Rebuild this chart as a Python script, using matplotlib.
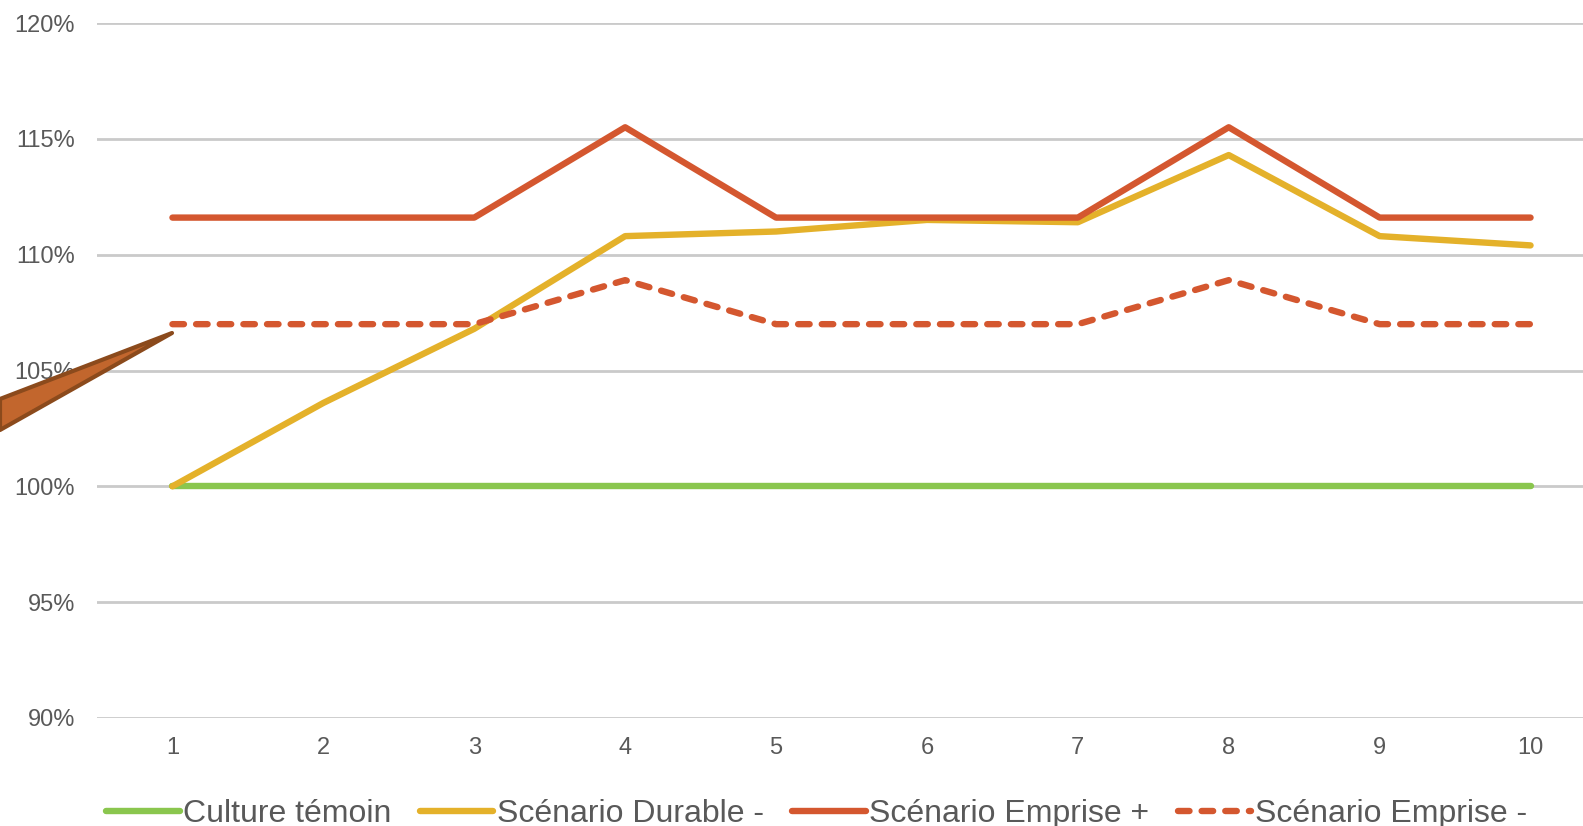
import matplotlib.pyplot as plt
from matplotlib.patches import Polygon

plt.rcParams['font.family'] = ['Liberation Sans', 'DejaVu Sans']

years = [1, 2, 3, 4, 5, 6, 7, 8, 9, 10]
temoin = [100, 100, 100, 100, 100, 100, 100, 100, 100, 100]
durable_moins = [100, 103.6, 106.8, 110.8, 111.0, 111.5, 111.4, 114.3, 110.8, 110.4]
emprise_plus = [111.6, 111.6, 111.6, 115.5, 111.6, 111.6, 111.6, 115.5, 111.6, 111.6]
emprise_moins = [107.0, 107.0, 107.0, 108.9, 107.0, 107.0, 107.0, 108.9, 107.0, 107.0]
yticks = [90, 95, 100, 105, 110, 115, 120]

W, H = 1583, 826
fig = plt.figure(figsize=(W / 100, H / 100), dpi=100)
ax = fig.add_axes([97 / W, 108 / H, 1509 / W, 695 / H])

lw = 4.6
ax.plot(years, temoin, color='#8AC64E', lw=lw, solid_capstyle='round', label='Culture témoin')
ax.plot(years, durable_moins, color='#E4B12A', lw=lw, solid_capstyle='round', label='Scénario Durable -')
ax.plot(years, emprise_plus, color='#D4572F', lw=lw, solid_capstyle='round', label='Scénario Emprise +')
ax.plot(years, emprise_moins, color='#D4572F', lw=lw, dashes=(1.8, 1.9),
        dash_capstyle='round', label='Scénario Emprise -')

ax.set_xlim(0.5, 10.5)
ax.set_ylim(90, 120)
ax.set_xticks(years)
ax.set_yticks(yticks)
ax.set_yticklabels([f'{v}%' for v in yticks])
ax.grid(axis='y', color='#CACACA', lw=2.0)
ax.set_axisbelow(True)
for s in ax.spines.values():
    s.set_visible(False)
ax.tick_params(length=0, labelsize=17, colors='#595959')
ax.tick_params(axis='x', pad=14)
ax.tick_params(axis='y', pad=16)

leg = fig.legend(loc='center', bbox_to_anchor=(0.5 + 25 / W, 1 - 814 / H), ncol=4, frameon=False,
                 fontsize=23, handlelength=2.3, handletextpad=0.1, columnspacing=0.9)
for t in leg.get_texts():
    t.set_color('#595959')

# brown wedge shape on the left
pts = [(172, 333), (0, 399), (0, 430)]
wedge = Polygon([(x / W, 1 - y / H) for x, y in pts], closed=True, transform=fig.transFigure,
                facecolor='#C2662D', edgecolor='#8B4A1C', lw=3, joinstyle='round')
fig.patches.append(wedge)

fig.savefig('out.png', dpi=100)
